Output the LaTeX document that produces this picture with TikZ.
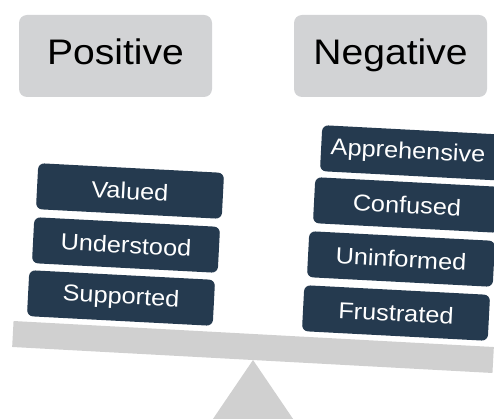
\documentclass[tikz,border=0pt]{standalone}
\usepackage{fontspec}
\setmainfont{Liberation Sans}
\definecolor{hdrgray}{HTML}{D2D3D5}
\definecolor{beamgray}{HTML}{D0D0D0}
\definecolor{navy}{HTML}{253A4F}
\newcommand\stretchtxt[1]{\scalebox{1.1}[1]{#1}}
\begin{document}
\begin{tikzpicture}[x=1pt,y=-1pt,
  hdr/.style={fill=hdrgray, rounded corners=8pt, minimum width=193pt, minimum height=82pt, inner sep=0pt, text height=26pt, text depth=8pt, font=\fontsize{35.5}{38}\selectfont, text=black},
  feel/.style={fill=navy, rounded corners=6pt, minimum width=186pt, minimum height=46pt, inner sep=0pt, rotate=-3, font=\fontsize{23}{25}\selectfont, text=white},
  beamstyle/.style={fill=beamgray, minimum width=481pt, minimum height=26pt, inner sep=0pt, rotate=-3.1}]
\useasboundingbox (0,0) rectangle (494,419);
\clip (0,0) rectangle (494,419);
% headers
\node[hdr] (pos) at (115.5,56) {\stretchtxt{Positive}};
\node[hdr] (neg) at (390.5,56) {\stretchtxt{Negative}};
% fulcrum
\coordinate (apex) at (253,360);
\fill[beamgray] (apex) -- (200,438) -- (306,438) -- cycle;
% beam
\node[beamstyle] (beam) at (253,347) {};
% positive feelings
\node[feel] (valued) at (130,191) {\stretchtxt{Valued}};
\node[feel] (understood) at (126,245) {\stretchtxt{Understood}};
\node[feel] (supported) at (121,298) {\stretchtxt{Supported}};
% negative feelings
\node[feel] (appre) at (414,153) {\stretchtxt{Apprehensive}\kern12pt\relax};
\node[feel] (confused) at (407,205) {\stretchtxt{Confused}};
\node[feel] (uninf) at (401,259) {\stretchtxt{Uninformed}};
\node[feel] (frust) at (396,313) {\stretchtxt{Frustrated}};
\end{tikzpicture}
\end{document}
